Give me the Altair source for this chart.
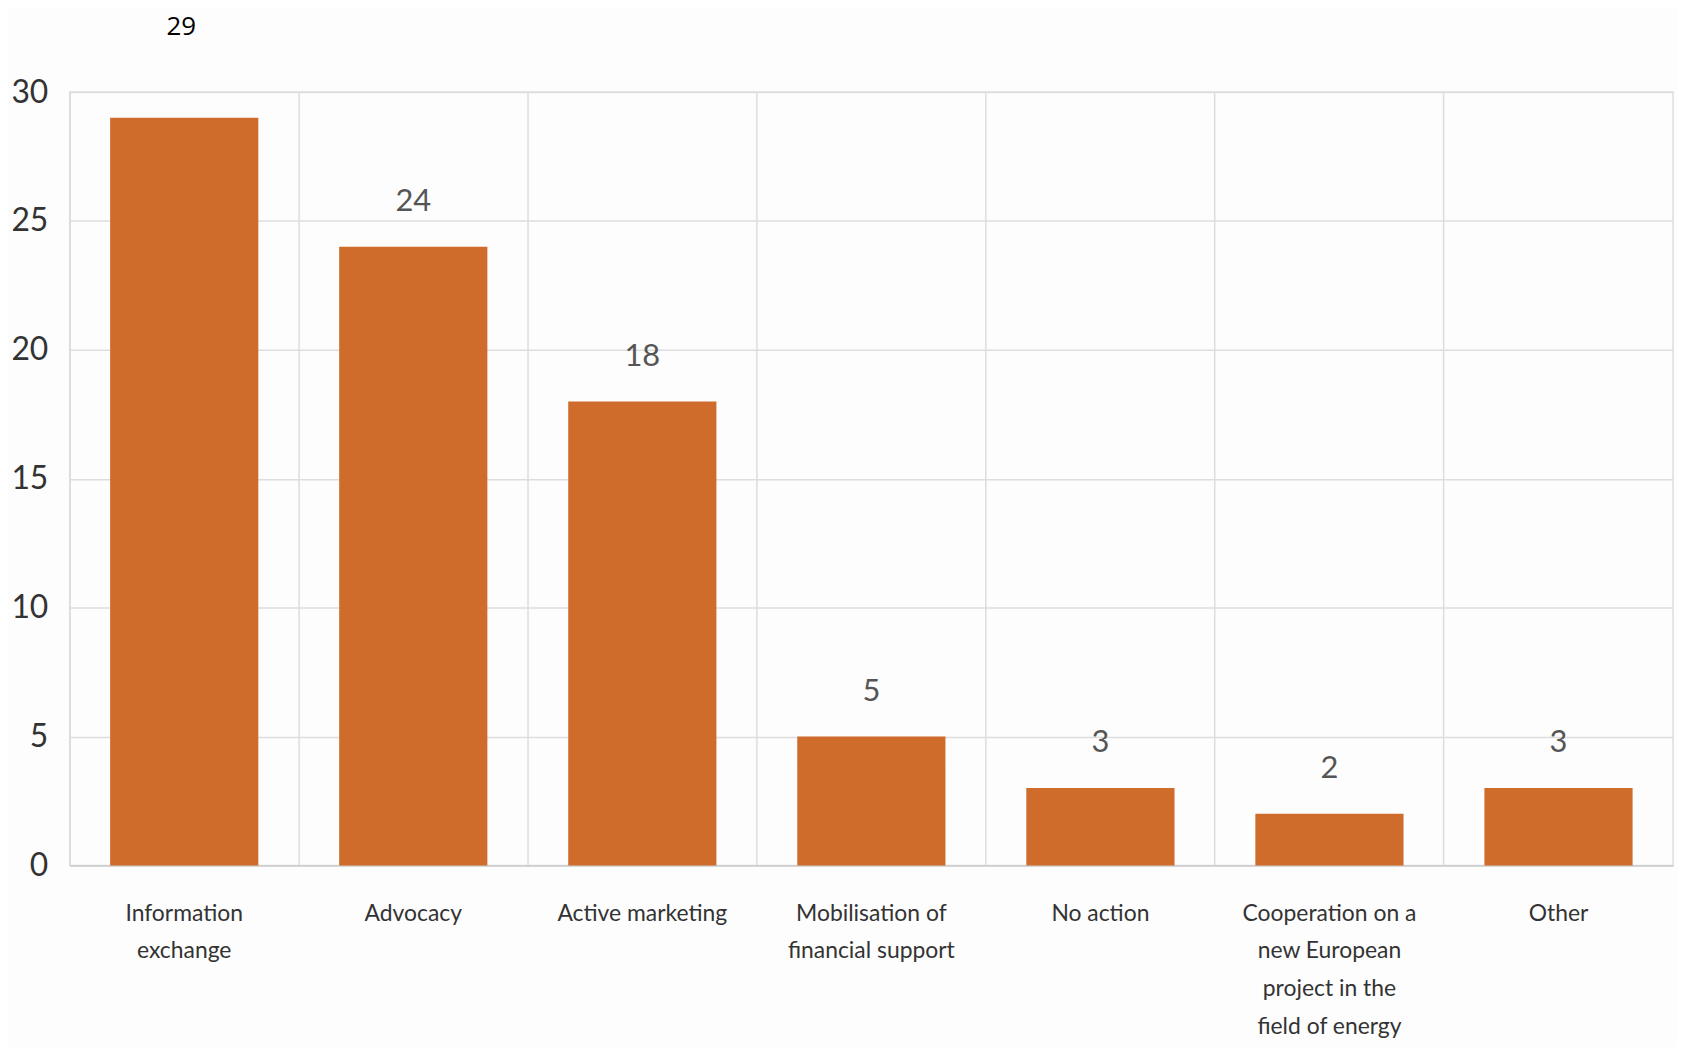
import altair as alt
import pandas as pd

categories = [
    "Information exchange",
    "Advocacy",
    "Active marketing",
    "Mobilisation of financial support",
    "No action",
    "Cooperation on a new European project in the field of energy",
    "Other",
]
label_lines = [
    ["Information", "exchange"],
    ["Advocacy"],
    ["Active marketing"],
    ["Mobilisation of", "financial support"],
    ["No action"],
    ["Cooperation on a", "new European", "project in the", "field of energy"],
    ["Other"],
]
values = [29, 24, 18, 5, 3, 2, 3]
y_ticks = [0, 5, 10, 15, 20, 25, 30]

df = pd.DataFrame({"category": categories, "value": values})
label_map = {c: l for c, l in zip(categories, label_lines)}
label_expr = "{" + ",".join(
    '"%s":[%s]' % (c, ",".join('"%s"' % s for s in l)) for c, l in label_map.items()
) + "}[datum.value]"

x = alt.X(
    "category:N",
    sort=categories,
    scale=alt.Scale(paddingInner=0, paddingOuter=0),
    axis=alt.Axis(
        title=None,
        labelAngle=0,
        labelExpr=label_expr,
        labelFont="Lato",
        labelFontSize=23,
        labelColor="#333333",
        labelLineHeight=38,
        labelBaseline="top",
        labelPadding=37,
        labelLimit=400,
        ticks=False,
        domain=True,
        domainColor="#cfcfcf",
        domainWidth=2,
        grid=True,
        gridColor="#dddddd",
        gridWidth=1.5,
        bandPosition=0,
    ),
)
y = alt.Y(
    "value:Q",
    scale=alt.Scale(domain=[0, 30], nice=False),
    axis=alt.Axis(
        title=None,
        values=y_ticks,
        labelFont="Lato",
        labelFontSize=32,
        labelColor="#333333",
        labelPadding=22,
        ticks=False,
        domain=False,
        grid=True,
        gridColor="#dddddd",
        gridWidth=1.5,
    ),
)

bars = alt.Chart(df).mark_bar(color="#CF6C2B", width=alt.RelativeBandSize(0.647)).encode(x=x, y=y)

labels = alt.Chart(df).transform_filter("datum.value != 29").mark_text(
    font="Lato", fontSize=31, color="#555555", baseline="middle", dy=-45
).encode(x=alt.X("category:N", sort=categories), y="value:Q", text="value:Q")

top_label = alt.Chart(df).transform_filter("datum.value == 29").mark_text(
    font="Open Sans", fontSize=26, color="#000000", baseline="middle", dx=-3, dy=-91
).encode(x=alt.X("category:N", sort=categories), y="value:Q", text="value:Q")

chart = (
    alt.layer(bars, labels, top_label)
    .properties(
        width=1611,
        height=777,
        autosize=alt.AutoSizeParams(type="none"),
        padding={"left": 62, "top": 82, "right": 4, "bottom": 180},
        background="#fdfdfd",
    )
    .configure_view(stroke="#dddddd", strokeWidth=1.5)
)

chart.save("out.html", embed_options={"renderer": "svg", "actions": False})
